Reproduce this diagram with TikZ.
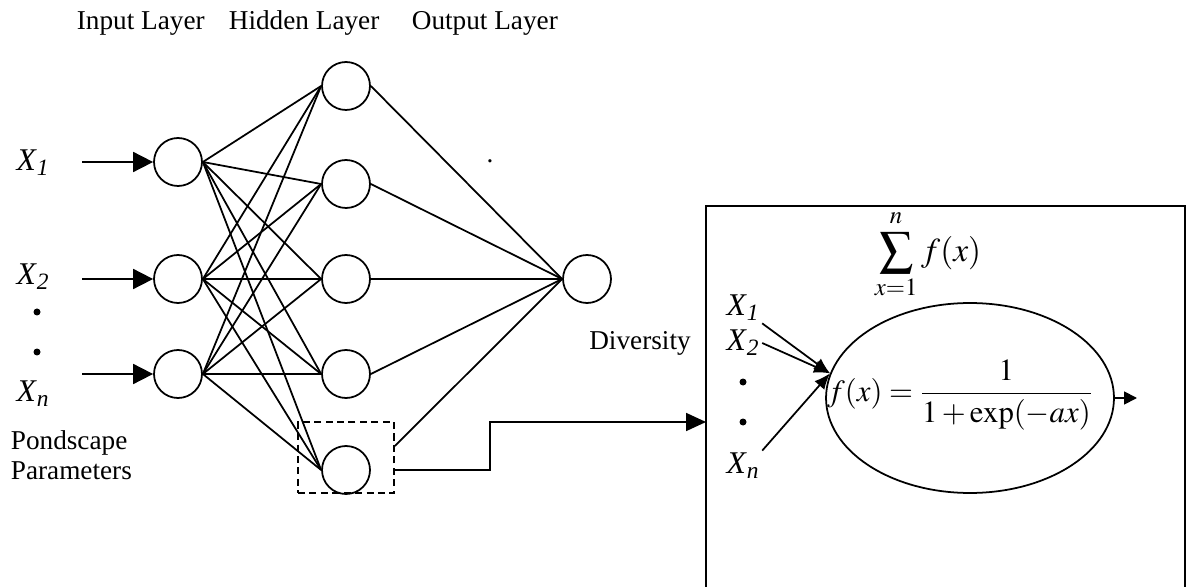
\documentclass[tikz,border=0pt]{standalone}
\usepackage{mathptmx}
\usepackage{fontspec}
\setmainfont{Liberation Serif}
\usetikzlibrary{arrows.meta, positioning, calc, shapes.geometric}

\begin{document}
\begin{tikzpicture}[x=0.02cm, y=-0.02cm, line width=1pt,
    neuron/.style={circle, draw, minimum size=0.96cm, inner sep=0pt},
    txt/.style={font=\fontsize{15.5}{17}\selectfont, inner sep=0pt},
    varlbl/.style={font=\fontsize{18}{20}\selectfont, inner sep=1pt},
    inarrow/.style={-{Triangle[length=0.4cm, width=0.4cm]}},
    smallarrow/.style={-{Latex[length=0.32cm, width=0.26cm]}}]

    \useasboundingbox (0,0) rectangle (1186,587);

    % Layer titles
    \node[txt, anchor=base west] (tin) at (76,30) {Input Layer};
    \node[txt, anchor=base west] (thid) at (228,30) {Hidden Layer};
    \node[txt, anchor=base west] (tout) at (411,30) {Output Layer};
    \node[txt, anchor=base] (stray) at (490,163) {.};

    % Neurons of the network
    \node[neuron] (in1) at (178,162) {};
    \node[neuron] (in2) at (178,279) {};
    \node[neuron] (in3) at (178,374) {};
    \foreach \j/\y in {1/86, 2/184, 3/279, 4/374, 5/470} {
        \node[neuron] (h\j) at (346,\y) {};
    }
    \node[neuron] (out) at (587,279) {};

    % Highlighted hidden neuron
    \node[draw, dash pattern=on 4pt off 2.5pt, minimum width=1.92cm, minimum height=1.42cm] (h5box) at (346,457.5) {};

    % Input variables with their arrows
    \node[varlbl, anchor=west] (x1) at (14,163) {\textit{X}\textsubscript{\textit{1}}};
    \node[varlbl, anchor=west] (x2) at (14,277) {\textit{X}\textsubscript{\textit{2}}};
    \node[varlbl, anchor=west] (xn) at (14,394) {\textit{X}\textsubscript{\textit{n}}};
    \foreach \y in {312, 352} {
        \fill (37,\y) circle[radius=0.07cm];
    }
    \coordinate (a1) at (82,162);
    \coordinate (a2) at (82,279);
    \coordinate (a3) at (82,374);
    \foreach \i in {1,2,3} {
        \draw[inarrow] (a\i) -- (in\i);
    }
    \node[txt, anchor=west, align=left] (pond) at (10,455) {Pondscape\\Parameters};

    % Weights
    \foreach \i in {1,2,3} {
        \foreach \j in {1,...,5} {
            \draw (in\i.east) -- (h\j.west);
        }
    }
    \foreach \j in {1,...,4} {
        \draw (h\j.east) -- (out.west);
    }
    \draw[shorten <=0.68cm] (h5.east) -- (out.west);

    % Link to the neuron detail
    \node[txt] (div) at (640,343) {Diversity};
    \coordinate (bend) at (490,422);
    \coordinate (pin) at (706,422);
    \draw[-{Triangle[length=0.4cm, width=0.36cm]}] (h5box.east |- h5) -| (bend) -- (pin);

    % Neuron detail panel
    \draw (706,600) -- (706,206) -- (1185,206) -- (1185,600);
    \node[font=\fontsize{19}{22}\selectfont] (sumf) at (928,254) {$\displaystyle\sum_{x=1}^{n\rule[-3pt]{0pt}{0pt}} f(x)$};
    \node[draw, ellipse, minimum width=5.76cm, minimum height=3.8cm, inner sep=0pt] (sig) at (970,398) {};
    \node[font=\fontsize{17.5}{20}\selectfont] (fx) at (960,395) {$\displaystyle f(x)=\frac{1}{1+\exp(-ax)}$};
    \node[varlbl, anchor=west] (px1) at (724,308) {\textit{X}\textsubscript{\textit{1}}};
    \node[varlbl, anchor=west] (px2) at (724,343) {\textit{X}\textsubscript{\textit{2}}};
    \node[varlbl, anchor=west] (pxn) at (724,466) {\textit{X}\textsubscript{\textit{n}}};
    \foreach \y in {382, 422} {
        \fill (743,\y) circle[radius=0.07cm];
    }
    \draw[smallarrow] (px1.south east) -- (sig.170);
    \draw[smallarrow] (px2.east) -- (sig.170);
    \draw[smallarrow] (pxn.north east) -- (sig.170);
    \coordinate (sigout) at (1137,398);
    \draw[-{Triangle[length=0.26cm, width=0.26cm]}] (sig.east) -- (sigout);

\end{tikzpicture}
\end{document}
